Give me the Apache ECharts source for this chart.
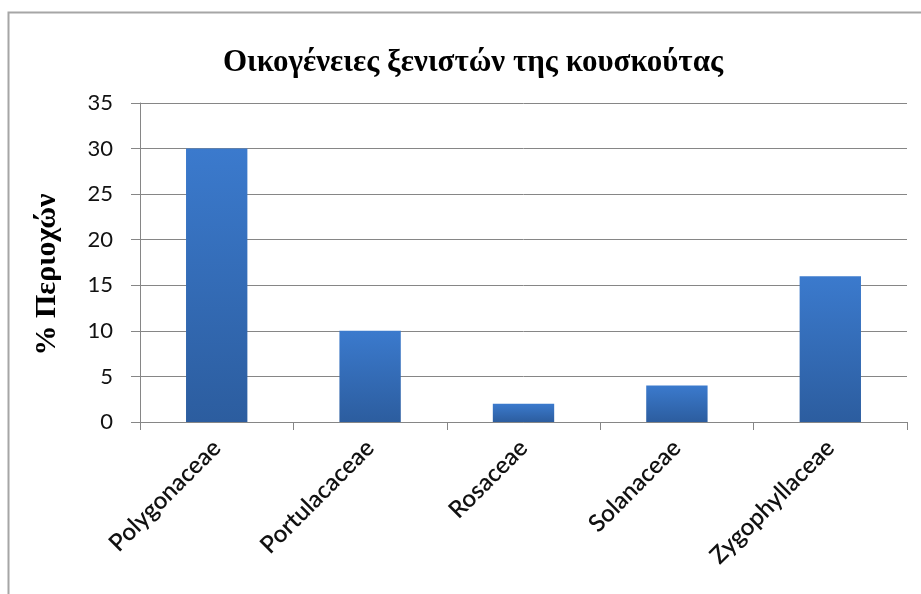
<!DOCTYPE html>
<html>
<head>
<meta charset="utf-8">
<script src="https://cdn.jsdelivr.net/npm/echarts@6/dist/echarts.min.js"></script>
<style>
html,body{margin:0;padding:0;background:#fff;}
#main{width:921px;height:594px;}
</style>
</head>
<body>
<div id="main"></div>
<script>
const titleText = 'Οικογένειες ξενιστών της κουσκούτας';
const yAxisName = '% Περιοχών';
const categories = ['Polygonaceae', 'Portulacaceae', 'Rosaceae', 'Solanaceae', 'Zygophyllaceae'];
const values = [30, 10, 2, 4, 16];

const chart = echarts.init(document.getElementById('main'), null, {renderer: 'canvas'});
chart.setOption({
  backgroundColor: '#ffffff',
  animation: false,
  graphic: [{
    type: 'rect',
    shape: {x: 8.5, y: 12.5, width: 1000, height: 1000},
    style: {fill: 'none', stroke: '#a6a6a6', lineWidth: 2},
    silent: true
  }],
  title: {
    text: titleText,
    left: 468,
    textAlign: 'center',
    top: 42,
    textStyle: {fontFamily: 'Liberation Serif', fontWeight: 'bold', fontSize: 31, color: '#000'}
  },
  grid: {left: 140, right: 14, top: 103, bottom: 172},
  xAxis: {
    type: 'category',
    data: categories,
    axisLine: {lineStyle: {color: '#868686', width: 1}},
    axisTick: {show: true, length: 8, alignWithLabel: false, lineStyle: {color: '#868686'}},
    axisLabel: {rotate: 45, fontFamily: 'Lato', fontWeight: 600, fontSize: 24, color: '#111', margin: 22, interval: 0}
  },
  yAxis: {
    type: 'value',
    min: 0, max: 35, interval: 5,
    name: yAxisName,
    nameLocation: 'middle',
    nameGap: 78,
    nameRotate: 90,
    nameTextStyle: {fontFamily: 'Liberation Serif', fontWeight: 'bold', fontSize: 30, color: '#000', padding: [0, 24, 0, 0]},
    axisLine: {show: true, lineStyle: {color: '#868686', width: 1}},
    axisTick: {show: true, length: 9, inside: false, lineStyle: {color: '#868686'}},
    axisLabel: {fontFamily: 'Lato', fontSize: 22, color: '#111', margin: 27},
    splitLine: {show: true, lineStyle: {color: '#868686', width: 1}}
  },
  series: [{
    type: 'bar',
    data: values,
    barWidth: '40%',
    itemStyle: {
      color: new echarts.graphic.LinearGradient(0, 0, 0, 1, [
        {offset: 0, color: '#3b7acd'},
        {offset: 1, color: '#2c5d9f'}
      ])
    }
  }]
});
</script>
</body>
</html>
